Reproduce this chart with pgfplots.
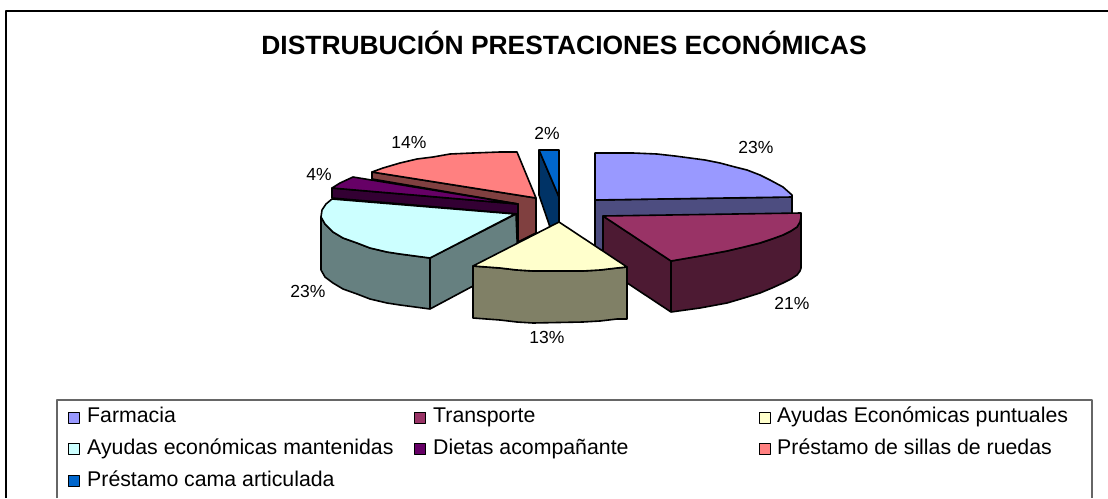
\documentclass[border=0pt]{standalone}
\usepackage{pgfplots}
\pgfplotsset{compat=1.18}
\usepackage{fontspec}
\setmainfont{Liberation Sans}
\definecolor{c1}{HTML}{9999FF}\definecolor{s1}{HTML}{4D4D80}
\definecolor{c2}{HTML}{993366}\definecolor{s2}{HTML}{4D1A33}
\definecolor{c3}{HTML}{FFFFCC}\definecolor{s3}{HTML}{808066}
\definecolor{c4}{HTML}{CCFFFF}\definecolor{s4}{HTML}{668080}
\definecolor{c5}{HTML}{660066}\definecolor{s5}{HTML}{330033}
\definecolor{c6}{HTML}{FF8080}\definecolor{s6}{HTML}{804040}
\definecolor{c7}{HTML}{0066CC}\definecolor{s7}{HTML}{003366}
\tikzset{
  lab/.style={font=\fontsize{17.5}{17.5}\selectfont, anchor=center, text=black, inner sep=0},
  leg/.style={font=\fontsize{21.3}{21.3}\selectfont, anchor=base west, text=black, inner sep=0},
}
\begin{document}
\begin{tikzpicture}[x=1pt,y=1pt]
\begin{axis}[
  scale only axis, width=1108pt, height=498pt,
  xmin=0, xmax=1108, ymin=0, ymax=498, y dir=reverse,
  hide axis, clip=true,
  every axis plot/.append style={draw=black, line width=1.6pt, line join=round},
]
% page
\addplot[draw=none, fill=white] coordinates {(0,0)(1108,0)(1108,498)(0,498)} --cycle;
% frames
\addplot[draw=black, line width=1.7pt] coordinates {(6,498)(6,11)(1108,11)};
\addplot[draw=black!60, line width=1.2pt] coordinates {(57,498)(57,400)(1092,400)(1092,498)};
% Prestamo cama
\addplot[fill=s7] coordinates {(539,150)(559,197)(559,223)(550,227)(539,195)} --cycle;
\addplot[fill=c7] coordinates {(539,150)(559,150)(559,197)} --cycle;
% Sillas de ruedas
\addplot[fill=s6] coordinates {(372,172)(536,198)(536,233)(518,242)(518,204)(372,179)} --cycle;
\addplot[fill=c6] coordinates {(372,172)(383,168)(400,163)(417,159)(433,157)(450,154)(473,153)(500,152)(517,152)(536,198)} --cycle;
% Dietas
\addplot[fill=s5] coordinates {(332,188)(518,204)(518,214)(332,198)} --cycle;
\addplot[fill=c5] coordinates {(332,188)(340,183)(353,177)(518,204)} --cycle;
% Ayudas mantenidas
\addplot[fill=s4] coordinates {(321,217)(325,224)(333,232)(343,238)(357,243)(370,248)(387,252)(400,254)(430,258)(516,214)(518,262)(430,309)(400,305)(387,303)(370,299)(357,294)(343,289)(333,283)(325,277)(321,270)} --cycle;
\addplot[draw=black] coordinates {(430,258)(430,309)};
\addplot[fill=c4] coordinates {(332,199)(515,214)(430,258)(400,254)(387,252)(370,248)(357,243)(343,238)(333,232)(325,224)(321,217)(322,210)(326,204)} --cycle;
% Farmacia
\addplot[fill=s1] coordinates {(595,200)(792,197)(792,260)(595,260)} --cycle;
\addplot[fill=c1] coordinates {(595,153)(633,153)(657,154)(675,156)(690,158)(705,160)(720,163)(735,167)(747,170)(760,175)(770,180)(783,187)(792,195)(792,197)(595,200)} --cycle;
% Transporte
\addplot[fill=s2] coordinates {(603,216)(671,261)(700,256)(727,251)(744,247)(760,243)(772,239)(783,235)(791,231)(797,227)(800,222)(801,217)(801,268)(800,271)(797,275)(791,279)(783,283)(772,288)(760,293)(744,298)(727,303)(700,308)(671,312)(603,267)} --cycle;
\addplot[draw=black] coordinates {(671,261)(671,312)};
\addplot[fill=c2] coordinates {(603,216)(801,213)(801,217)(800,222)(797,227)(791,231)(783,235)(772,239)(760,243)(744,247)(727,251)(700,256)(671,261)} --cycle;
% Ayudas puntuales
\addplot[fill=s3] coordinates {(473,266)(500,268)(517,270)(533,271)(583,271)(600,270)(617,268)(627,267)(627,319)(617,319)(600,321)(583,322)(533,323)(517,322)(500,320)(473,318)} --cycle;
\addplot[fill=c3] coordinates {(559,222)(627,267)(617,268)(600,270)(583,271)(533,271)(517,270)(500,268)(473,266)} --cycle;
% legend markers
\addplot[only marks, mark=square*, mark size=5.5pt, mark options={draw=black, line width=0.9pt, fill=c1}] coordinates {(73.5,417.5)};
\addplot[only marks, mark=square*, mark size=5.5pt, mark options={draw=black, line width=0.9pt, fill=c2}] coordinates {(420,417.5)};
\addplot[only marks, mark=square*, mark size=5.5pt, mark options={draw=black, line width=0.9pt, fill=c3}] coordinates {(764.5,417.5)};
\addplot[only marks, mark=square*, mark size=5.5pt, mark options={draw=black, line width=0.9pt, fill=c4}] coordinates {(73.5,449)};
\addplot[only marks, mark=square*, mark size=5.5pt, mark options={draw=black, line width=0.9pt, fill=c5}] coordinates {(420,449)};
\addplot[only marks, mark=square*, mark size=5.5pt, mark options={draw=black, line width=0.9pt, fill=c6}] coordinates {(764.5,449)};
\addplot[only marks, mark=square*, mark size=5.5pt, mark options={draw=black, line width=0.9pt, fill=c7}] coordinates {(73.5,481)};
% text
\node[font=\bfseries\fontsize{26.4}{26.4}\selectfont, anchor=center, inner sep=0] at (axis cs:564,43) {DISTRUBUCIÓN PRESTACIONES ECONÓMICAS};
\node[lab] at (axis cs:756,147) {23\%};
\node[lab] at (axis cs:792,303) {21\%};
\node[lab] at (axis cs:547,337) {13\%};
\node[lab] at (axis cs:308,291) {23\%};
\node[lab] at (axis cs:319,174) {4\%};
\node[lab] at (axis cs:409,142) {14\%};
\node[lab] at (axis cs:547,133) {2\%};
\node[leg] at (axis cs:87,422) {Farmacia};
\node[leg] at (axis cs:433,422) {Transporte};
\node[leg] at (axis cs:777,422) {Ayudas Económicas puntuales};
\node[leg] at (axis cs:87,454) {Ayudas económicas mantenidas};
\node[leg] at (axis cs:433,454) {Dietas acompañante};
\node[leg] at (axis cs:777,454) {Préstamo de sillas de ruedas};
\node[leg] at (axis cs:87,486) {Préstamo cama articulada};
\end{axis}
\end{tikzpicture}
\end{document}
